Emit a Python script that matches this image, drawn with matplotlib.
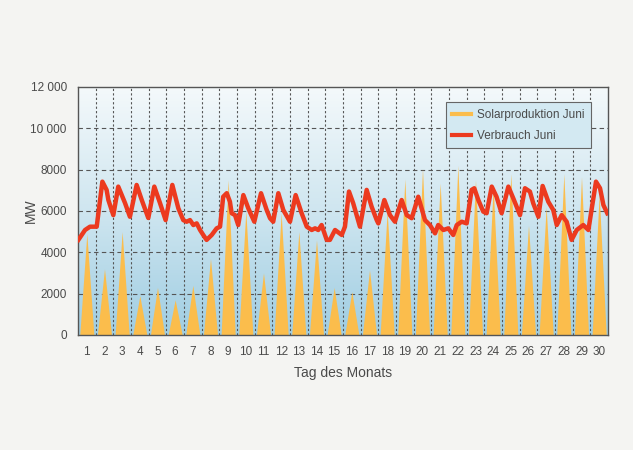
import matplotlib.pyplot as plt
import numpy as np
from matplotlib.colors import LinearSegmentedColormap
from matplotlib.lines import Line2D

plt.rcParams['font.family'] = ['Liberation Sans', 'DejaVu Sans']

# Data
days = list(range(1, 31))
solar_peak = [4900, 3200, 5000, 1900, 2300, 1700, 2400, 3700, 7500, 6000,
              3000, 5900, 5000, 4600, 2300, 2100, 3150, 6000, 7550, 8050,
              7350, 8200, 7500, 7200, 7800, 5300, 6200, 7800, 7650, 6800]

# consumption, position in days since start of month
verbrauch_t = [0.02, 0.40, 0.68, 1.06, 1.38, 1.62, 1.72, 2.00, 2.28, 2.66,
               2.94, 3.32, 3.61, 3.98, 4.32, 4.64, 4.96, 5.34, 5.68, 5.96,
               6.15, 6.34, 6.53, 6.72, 6.91, 7.09, 7.28, 7.57, 7.85, 8.04,
               8.22, 8.42, 8.60, 8.70, 8.89, 9.07, 9.36, 9.64, 9.98, 10.36,
               10.68, 10.87, 11.05, 11.34, 11.62, 12.00, 12.32, 12.66, 12.95, 13.23,
               13.42, 13.60, 13.79, 14.08, 14.26, 14.55, 14.93, 15.11, 15.34, 15.58,
               15.96, 16.34, 16.62, 16.91, 17.00, 17.34, 17.66, 17.94, 18.32, 18.61,
               18.89, 19.26, 19.64, 19.92, 20.21, 20.39, 20.68, 20.96, 21.24, 21.44,
               21.72, 22.00, 22.28, 22.43, 22.66, 22.94, 23.13, 23.42, 23.69, 23.98,
               24.36, 24.64, 25.02, 25.30, 25.58, 25.77, 26.06, 26.30, 26.62, 26.90,
               27.10, 27.38, 27.66, 27.94, 28.23, 28.60, 28.89, 29.32, 29.55, 29.74,
               29.96]
verbrauch = [4600, 5080, 5240, 5240, 7420, 7020, 6530, 5800, 7180, 6390,
             5720, 7260, 6530, 5660, 7180, 6390, 5560, 7260, 6130, 5560,
             5480, 5560, 5320, 5400, 5080, 4840, 4600, 4840, 5160, 5240,
             6690, 6860, 6450, 5890, 5800, 5320, 6770, 6130, 5480, 6860,
             6050, 5650, 5480, 6860, 6050, 5480, 6770, 5890, 5240, 5080,
             5160, 5080, 5320, 4600, 4600, 5080, 4840, 5240, 6940, 6370,
             5240, 7020, 6210, 5560, 5400, 6530, 5800, 5480, 6530, 5800,
             5650, 6690, 5560, 5320, 4920, 5320, 5080, 5160, 4840, 5320,
             5480, 5400, 7020, 7100, 6530, 5970, 5890, 7180, 6690, 5890,
             7180, 6610, 5800, 7100, 6940, 6370, 5720, 7210, 6450, 6050,
             5320, 5800, 5480, 4600, 5080, 5320, 5080, 7420, 7100, 6290,
             5890]

# solar: one triangle per day, sunrise/sunset fixed
solar_t = []
solar_v = []
for i, p in enumerate(solar_peak):
    solar_t += [i + 0.1, i + 0.5, i + 0.9]
    solar_v += [0, p, 0]

fig = plt.figure(figsize=(6.33, 4.5), dpi=100)
fig.patch.set_facecolor('#f4f4f2')
ax = fig.add_axes([0.1232, 0.2556, 0.8373, 0.5511])

# gradient background
cmap = LinearSegmentedColormap.from_list('bg', ['#9fcde2', '#cfe6f0', '#f4f9fb'])
grad = np.linspace(0, 1, 256).reshape(-1, 1)
ax.imshow(grad, extent=[0, 30, 0, 12000], origin='lower', aspect='auto',
          cmap=cmap, zorder=0)

ax.fill_between(solar_t, solar_v, 0, color='#fbbd4c', lw=0, zorder=2)
ax.plot(verbrauch_t, verbrauch, color='#ec3a1f', lw=3.2, zorder=3,
        solid_joinstyle='round')

ax.set_xlim(0, 30)
ax.set_ylim(0, 12000)
ax.set_xticks(np.arange(30) + 0.5)
ax.set_xticklabels([str(d) for d in days])
ax.set_yticks(range(0, 12001, 2000))
ax.set_yticklabels(['0', '2000', '4000', '6000', '8000', '10 000', '12 000'])
ax.tick_params(length=0, labelsize=8.5, colors='#4a4a4a', pad=8)

for x in range(1, 30):
    ax.axvline(x, color='#555555', lw=0.8, ls=(0, (2, 2)), zorder=1)
for y in range(2000, 12000, 2000):
    ax.axhline(y, color='#555555', lw=0.8, ls=(0, (4, 3)), zorder=1)

for s in ax.spines.values():
    s.set_color('#555555')
    s.set_linewidth(1)

ax.set_ylabel('MW', fontsize=10, color='#4a4a4a')
ax.set_xlabel('Tag des Monats', fontsize=10, color='#4a4a4a')
ax.yaxis.set_label_coords(-0.075, 0.5)
ax.xaxis.set_label_coords(0.5, -0.125)

handles = [Line2D([], [], color='#fbbd4c', lw=3),
           Line2D([], [], color='#ec3a1f', lw=3)]
leg = ax.legend(handles, ['Solarproduktion Juni', 'Verbrauch Juni'],
                loc='upper right', bbox_to_anchor=(0.979, 0.962),
                fontsize=8.5, fancybox=False, framealpha=1,
                handlelength=1.6, borderpad=0.55, labelspacing=0.75,
                handletextpad=0.5)
leg.get_frame().set_facecolor('#d3e9f2')
leg.get_frame().set_edgecolor('#666666')
leg.get_frame().set_linewidth(0.8)
for t in leg.get_texts():
    t.set_color('#4a4a4a')

plt.savefig('out.png', dpi=100, facecolor=fig.get_facecolor())
